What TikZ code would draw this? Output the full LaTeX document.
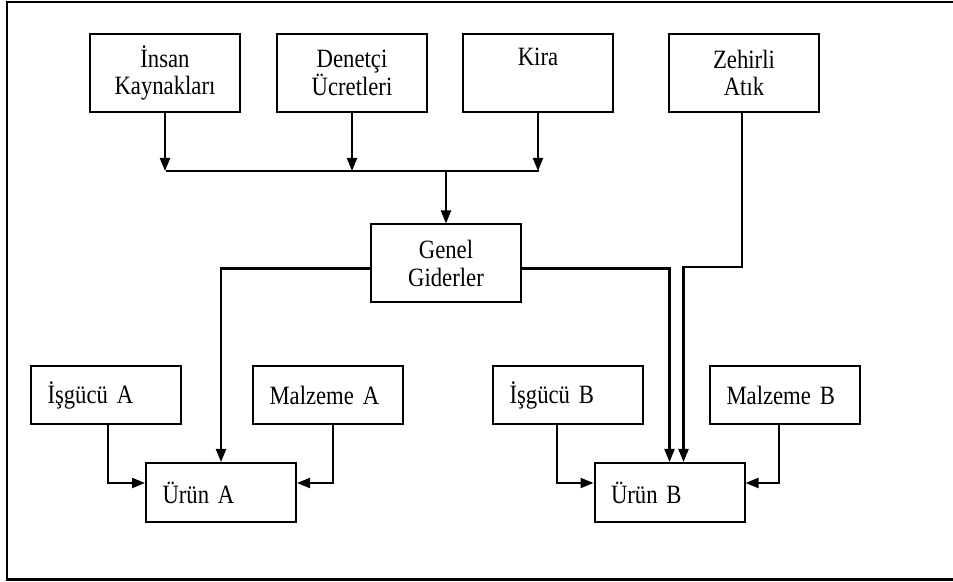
\documentclass[tikz,border=0pt]{standalone}
\usepackage{fontspec}
\setmainfont{Liberation Serif}[FakeStretch=0.86]
\usepackage{tikz}
\usetikzlibrary{arrows.meta}

\tikzset{
	box/.style={draw=black, line width=1pt, minimum width=75pt, inner sep=0pt},
	topbox/.style={box, minimum height=39pt, align=center},
	inbox/.style={box, minimum height=29pt, inner xsep=8.25pt, text width=58.5pt, align=left},
	arr/.style={line width=1.05pt, -{Triangle[length=6.5pt,width=5pt]}},
	link/.style={line width=1.05pt}
}

\begin{document}
\begin{tikzpicture}[x=0.5pt, y=-0.5pt, font={\fontsize{13.2}{13.75}\selectfont\fontdimen2\font=2.4pt}]
			\useasboundingbox (0,0) rectangle (953,582);
			\draw[line width=1.1pt] (7,2) rectangle (965,579.5);
			
			\node[topbox] (ik) at (165,73) {İnsan\\Kaynakları};
			\node[topbox] (du) at (352,73) {Denetçi\\Ücretleri};
			\node[topbox] (kira) at (538,73) {Kira\\\phantom{Ay}};
			\node[topbox] (za) at (744,73) {Zehirli\\Atık};
			
			\node[topbox] (genel) at (446,263.5) {Genel\\Giderler};
			
			\node[inbox] (isA) at (106,395) {İşgücü A};
			\node[inbox] (malA) at (328,395) {Malzeme A};
			\node[inbox, minimum height=29.5pt] (urA) at (221,492.5) {Ürün A};
			
			\node[inbox] (isB) at (568,395) {İşgücü B};
			\node[inbox] (malB) at (785,395) {Malzeme B};
			\node[inbox, minimum height=29.5pt] (urB) at (669.5,492.5) {Ürün B};
			
			\coordinate (barL) at (166,171);
			\coordinate (barR) at (539,171);
			\coordinate (barM) at (446,171);
			\coordinate (zturn) at (742,267);
			
			\draw[arr] (ik.south) -- (ik.south |- barL);
			\draw[arr] (du.south) -- (du.south |- barL);
			\draw[arr] (kira.south) -- (kira.south |- barR);
			\draw[link] (barL) -- (barR);
			\draw[arr] (barM) -- (genel.north);
			
			\draw[arr] ([yshift=-2.5pt]genel.west) -| (urA.north);
			\draw[arr] ([yshift=-2.5pt]genel.east) -| (urB.north);
			\draw[arr] ([xshift=-1pt]za.south) -- ([xshift=-1pt]za.south |- zturn) -| ([xshift=7pt]urB.north);
			
			\draw[arr] ([xshift=1pt]isA.south) |- ([yshift=4.75pt]urA.west);
			\draw[arr] ([xshift=2.5pt]malA.south) |- ([yshift=4.75pt]urA.east);
			\draw[arr] ([xshift=-5.5pt]isB.south) |- ([yshift=4.75pt]urB.west);
			\draw[arr] ([xshift=-3pt]malB.south) |- ([yshift=4.75pt]urB.east);
		\end{tikzpicture}
\end{document}
